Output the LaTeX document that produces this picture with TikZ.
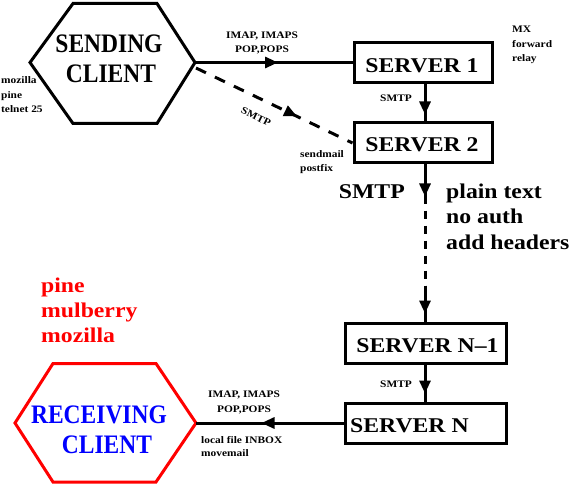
\documentclass[tikz,border=0pt]{standalone}
\usepackage{fontspec}
\setmainfont{Liberation Serif}
\newfontfamily\bigcf{Liberation Serif}[FakeStretch=0.88]
\newfontfamily\widef{Liberation Serif}[FakeStretch=1.13]
\newfontfamily\smallf{Liberation Serif}[FakeStretch=1.14]
\usetikzlibrary{arrows.meta,decorations.markings}
\definecolor{pured}{RGB}{255,0,0}
\definecolor{pblue}{RGB}{0,0,255}
\begin{document}
\begin{tikzpicture}[x=1pt,y=-1pt,
  conn/.style={line width=3pt},
  box/.style={draw,line width=3pt,minimum height=40pt,inner sep=0pt},
  hexa/.style={line width=3pt,line join=miter},
  bigtxt/.style={font=\bigcf\bfseries\fontsize{26.7}{30}\selectfont,inner sep=0pt},
  srvtxt/.style={font=\widef\bfseries\fontsize{21}{25}\selectfont,inner sep=0pt},
  medtxt/.style={font=\widef\bfseries\fontsize{21}{25.3}\selectfont,inner sep=0pt,align=left},
  smalltxt/.style={font=\smallf\bfseries\fontsize{10}{14.5}\selectfont,inner sep=0pt},
  tipat/.style={postaction={decorate},decoration={markings,mark=at position #1 with {\arrow{Triangle[length=13pt,width=11pt]}}}},
]
\fill[white] (0,0) rectangle (577,486);
\useasboundingbox (0,0) rectangle (577,486);

% sending client
\draw[hexa] (30,62.5) coordinate (scW) -- (73,3.5) -- (157,3.5) -- (195,62.5) coordinate (scE) -- (157,123.5) -- (73,123.5) -- cycle;
\coordinate (scD) at (196,68);
\node[bigtxt,anchor=base] (sct1) at (109,53) {SENDING};
\node[bigtxt,anchor=base] (sct2) at (111,83) {CLIENT};

% receiving client
\draw[hexa,pured] (15,423) coordinate (rcW) -- (53,363.5) -- (156,363.5) -- (196,423) coordinate (rcE) -- (156,482) -- (53,482) -- cycle;
\node[bigtxt,anchor=base,text=pblue] (rct1) at (99,423) {RECEIVING};
\node[bigtxt,anchor=base,text=pblue] (rct2) at (107,453) {CLIENT};

% servers
\node[box,minimum width=138pt] (s1) at (423,63) {};
\node[srvtxt,anchor=base] (s1t) at (422,73) {SERVER 1};
\node[box,minimum width=138pt] (s2) at (423,143) {};
\node[srvtxt,anchor=base] (s2t) at (422,152) {SERVER 2};
\node[box,minimum width=161pt] (sn1) at (425.5,343) {};
\node[srvtxt,anchor=base] (sn1t) at (427.5,352) {SERVER N\textendash1};
\node[box,minimum width=161pt] (sn) at (425.5,423) {};
\node[srvtxt,anchor=base west] (snt) at (350,432) {SERVER N};
\coordinate (vx) at (425,0);

% connectors
\draw[conn,tipat=83pt] (scE) -- (scE -| s1.west);
\draw[conn,dash pattern=on 11pt off 10pt,tipat=112pt] (scD) -- (s2.west);
\draw[conn,tipat=30pt] (s1.south -| vx) -- (s2.north -| vx);
\draw[conn,tipat=32pt] (s2.south -| vx) -- ++(0,39) coordinate (da);
\draw[conn,dash pattern=on 8pt off 7pt,dash phase=8pt] (da) -- ++(0,82) coordinate (db);
\draw[conn,tipat=28pt] (db) -- (sn1.north -| vx);
\draw[conn,tipat=29pt] (sn1.south -| vx) -- (sn.north -| vx);
\draw[conn,tipat=82pt] (sn.west) -- (rcE);

% small labels (base anchor = baseline of last line)
\node[smalltxt,anchor=base,align=center] (imap1) at (262,53) {IMAP, IMAPS\\POP,POPS};
\node[smalltxt,anchor=base west,align=left] (moz) at (1,113) {mozilla\\pine\\telnet 25};
\node[smalltxt,anchor=base west,align=left] (mx) at (512,62) {MX\\forward\\relay};
\node[smalltxt,anchor=base] (smtp1) at (396,102) {SMTP};
\node[smalltxt,anchor=base west,align=left,font=\smallf\bfseries\fontsize{10}{14}\selectfont] (sendm) at (300,172) {sendmail\\postfix};
\node[smalltxt,rotate=-26] (smtpd) at (256,117) {SMTP};
\node[smalltxt,anchor=base] (smtpn) at (396,387) {SMTP};
\node[smalltxt,anchor=base,align=center] (imap2) at (244,412) {IMAP, IMAPS\\POP,POPS};
\node[smalltxt,anchor=base west,align=left,font=\smallf\bfseries\fontsize{10}{13.7}\selectfont] (local) at (201,456.7) {local file INBOX\\movemail};

% medium labels
\node[medtxt,anchor=base east] (smtpbig) at (405,198) {SMTP};
\node[medtxt,anchor=base west,font=\widef\bfseries\fontsize{21}{25.5}\selectfont] (plain) at (446,249) {plain text\\no auth\\add headers};
\node[medtxt,anchor=base west,text=pured,font=\widef\bfseries\fontsize{21}{25}\selectfont] (red) at (41,342) {pine\\mulberry\\mozilla};
\end{tikzpicture}
\end{document}
